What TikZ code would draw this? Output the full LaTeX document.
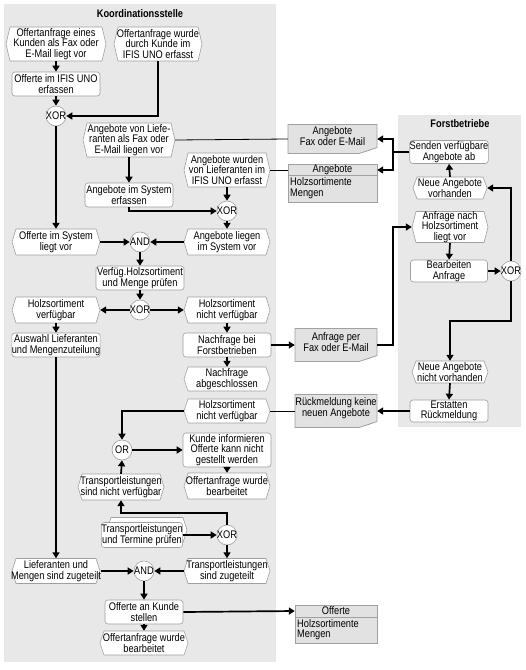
\documentclass[tikz,border=0pt]{standalone}
\usepackage{fontspec}
\setmainfont{Liberation Sans}[FakeStretch=0.84]
\usetikzlibrary{arrows.meta}
\definecolor{panel}{HTML}{E8E8E8}
\definecolor{docfill}{HTML}{E2E2E2}
\definecolor{edge}{HTML}{A0A0A0}
\tikzset{
 txt/.style={inner sep=0pt, align=center, font=\fontsize{11}{10.6}\selectfont},
 evshape/.style={fill=white, draw=edge, line width=0.6pt},
 fn/.style={txt, rectangle, rounded corners=3pt, fill=white, draw=edge, line width=0.6pt},
 gate/.style={circle, minimum size=20pt, inner sep=0pt, fill=white, draw=edge, line width=0.6pt, font=\fontsize{11}{10.6}\selectfont},
 flow/.style={line width=1.7pt, -{Triangle[length=6pt,width=7pt]}},
 bar/.style={line width=1.7pt},
 link/.style={line width=0.8pt},
 docshape/.style={fill=docfill, draw=edge, line width=0.6pt},
 ttl/.style={inner sep=0pt, font=\fontsize{11}{12}\selectfont\bfseries},
}
\newcommand\evt[6]{%
 \pgfmathsetmacro\exl{#2-(#4)/2}\pgfmathsetmacro\exr{#2+(#4)/2}%
 \pgfmathsetmacro\eyt{#3-(#5)/2}\pgfmathsetmacro\eyb{#3+(#5)/2}%
 \filldraw[evshape] (\exl,#3) -- ({\exl+4},\eyt) -- ({\exr-4},\eyt) -- (\exr,#3) -- ({\exr-4},\eyb) -- ({\exl+4},\eyb) -- cycle;
 \node[txt, minimum width=#4, minimum height=#5] (#1) at (#2,#3) {#6};
}
\newcommand\docu[6]{%
 \pgfmathsetmacro\dxl{#2-(#4)/2}\pgfmathsetmacro\dxr{#2+(#4)/2}%
 \pgfmathsetmacro\dyt{#3-(#5)/2}\pgfmathsetmacro\dyb{#3+(#5)/2}%
 \filldraw[docshape] (\dxl,\dyt) -- (\dxr,\dyt) -- (\dxr,{\dyb-6}) -- ({\dxr-18},\dyb) -- (\dxl,\dyb) -- cycle;
 \filldraw[fill=white!60!docfill, draw=edge, line width=0.4pt] ({\dxr-18},\dyb) -- (\dxr,{\dyb-6}) -- ({\dxr-8},{\dyb-3}) -- cycle;
 \node[txt, minimum width=#4, minimum height=#5] (#1) at (#2,#3) {};
 \node[txt] (#1t) at (#2,{#3-3}) {#6};
}
\begin{document}
\begin{tikzpicture}[x=1pt,y=-1pt]
\useasboundingbox (0,0) rectangle (526,670);
% panels
\fill[panel] (4,4) rectangle (276,662);
\fill[panel] (398,115) rectangle (521,427);
\node[ttl] (KS) at (140,14) {Koordinationsstelle};
\node[ttl] (FB) at (460,124) {Forstbetriebe};

% Koordinationsstelle
\evt{E1}{56}{44}{100}{34}{Offertanfrage eines\\Kunden als Fax oder\\E-Mail liegt vor}
\evt{E2}{158}{44}{88}{34}{Offertanfrage wurde\\durch Kunde im\\IFIS UNO erfasst}
\node[fn, minimum width=88, minimum height=24] (F1) at (56,84) {Offerte im IFIS UNO\\erfassen};
\node[gate] (X1) at (56,116) {\makebox[0pt]{XOR}};
\evt{E3}{129}{140}{92}{34}{Angebote von Liefe-\\ranten als Fax oder\\E-Mail liegen vor}
\node[fn, minimum width=88, minimum height=24] (F2) at (129,195) {Angebote im System\\erfassen};
\evt{E4}{227}{170}{86}{34}{Angebote wurden\\von Lieferanten im\\IFIS UNO erfasst}
\node[gate] (X2) at (227,211) {\makebox[0pt]{XOR}};
\evt{E5}{227}{242}{86}{26}{Angebote liegen\\im System vor}
\evt{E6}{56}{242}{88}{26}{Offerte im System\\liegt vor}
\node[gate] (A1) at (140,242) {\makebox[0pt]{AND}};
\node[fn, minimum width=88, minimum height=24] (F3) at (140,278) {Verfüg.Holzsortiment\\und Menge prüfen};
\node[gate] (X3) at (140,310) {\makebox[0pt]{XOR}};
\evt{E7}{56}{310}{88}{26}{Holzsortiment\\verfügbar}
\evt{E8}{227}{310}{86}{26}{Holzsortiment\\nicht verfügbar}
\node[fn, minimum width=88, minimum height=24] (F4) at (56,345) {Auswahl Lieferanten\\und Mengenzuteilung};
\node[fn, minimum width=88, minimum height=24] (F5) at (227,345) {Nachfrage bei\\Forstbetrieben};
\evt{E9}{227}{379}{86}{24}{Nachfrage\\abgeschlossen}
\evt{E10}{227}{411}{86}{24}{Holzsortiment\\nicht verfügbar}
\node[gate] (OR) at (122,450) {\makebox[0pt]{OR}};
\node[fn, minimum width=88, minimum height=34] (F6) at (227,450) {Kunde informieren\\Offerte kann nicht\\gestellt werden};
\evt{E11}{227}{486}{86}{26}{Offertanfrage wurde\\bearbeitet}
\evt{E12}{121}{487}{86}{26}{Transportleistungen\\sind nicht verfügbar}
\evt{F7s}{147}{530}{80}{25}{}
\node[fn, minimum width=80, minimum height=25] (F7) at (142,535) {Transportleistungen\\und Termine prüfen};
\node[gate] (X4) at (227,535) {\makebox[0pt]{XOR}};
\evt{E13}{56}{571}{88}{25}{Lieferanten und\\Mengen sind zugeteilt}
\node[gate] (A2) at (144,571) {\makebox[0pt]{AND}};
\evt{E14}{227}{571}{86}{25}{Transportleistungen\\sind zugeteilt}
\node[fn, minimum width=78, minimum height=24] (F8) at (144,612) {Offerte an Kunde\\stellen};
\evt{E15}{144}{643}{88}{24}{Offertanfrage wurde\\bearbeitet}

% documents
\docu{D1}{332.5}{139}{89}{29}{Angebote\\Fax oder E-Mail}
\filldraw[docshape] (288,164) rectangle (377,202);
\draw[draw=edge, line width=0.6pt] (288,175) -- (377,175);
\node[txt, minimum width=89, minimum height=11] (D2h) at (332.5,170) {Angebote};
\node[txt, align=left, anchor=north west] (D2b) at (290,177.5) {Holzsortimente\\Mengen};
\docu{D3}{336}{345}{82}{33}{Anfrage per\\Fax oder E-Mail}
\docu{D4}{336}{411}{82}{33}{Rückmeldung keine\\neuen Angebote}
\filldraw[docshape] (295,605) rectangle (377,643);
\draw[draw=edge, line width=0.6pt] (295,617) -- (377,617);
\node[txt, minimum width=82, minimum height=12] (D5h) at (336,611) {Offerte};
\node[txt, align=left, anchor=north west] (D5b) at (297,619) {Holzsortimente\\Mengen};

% Forstbetriebe
\node[fn, minimum width=75, minimum height=23] (F9) at (449,152) {Senden verfügbare\\Angebote ab};
\evt{E16}{450}{188}{74}{22}{Neue Angebote\\vorhanden}
\evt{E17}{450}{227}{76}{31}{Anfrage nach\\Holzsortiment\\liegt vor}
\node[fn, minimum width=77, minimum height=22] (F10) at (449,271) {Bearbeiten\\Anfrage};
\node[gate] (X5) at (511,271) {\makebox[0pt]{XOR}};
\evt{E18}{450}{372}{76}{22}{Neue Angebote\\nicht vorhanden}
\node[fn, minimum width=78, minimum height=22] (F11) at (449,411) {Erstatten\\Rückmeldung};

% connectors
\coordinate (j1) at (393,152);
\coordinate (j3) at (393,345);
\coordinate (k5) at (450,321);
\draw[flow] (E1.south) -- (F1.north);
\draw[flow] (F1.south) -- (X1.north);
\draw[flow] (E2.south) |- (X1.east);
\draw[flow] (X1.south) -- (E6.north);
\draw[flow] (E3.south) -- (F2.north);
\draw[flow] (F2.south) |- (X2.west);
\draw[flow] (E4.south) -- (X2.north);
\draw[flow] (X2.south) -- (E5.north);
\draw[flow] (E6.east) -- (A1.west);
\draw[flow] (E5.west) -- (A1.east);
\draw[flow] (A1.south) -- (F3.north);
\draw[flow] (F3.south) -- (X3.north);
\draw[flow] (X3.west) -- (E7.east);
\draw[flow] (X3.east) -- (E8.west);
\draw[flow] (E7.south) -- (F4.north);
\draw[flow] (E8.south) -- (F5.north);
\draw[flow] (F5.south) -- (E9.north);
\draw[flow] (F5.east) -- (D3.west);
\draw[flow] (D3.east) -- (j3) |- (E17.west);
\draw[link] (E3.east) -- (D1.west);
\draw[link] (E4.east) -- (D2h.west);
\draw[bar] (F9.west) -- (j1);
\draw[flow] (j1) |- (D1.east);
\draw[flow] (j1) |- (D2h.east);
\draw[flow] (E16.north) -- (F9.south);
\draw[flow] (E17.south) -- (F10.north);
\draw[flow] (F10.east) -- (X5.west);
\draw[flow] (X5.north) |- (E16.east);
\draw[flow] (X5.south) |- (k5) -- (E18.north);
\draw[flow] (E18.south) -- (F11.north);
\draw[flow] (F11.west) -- (D4.east);
\draw[link] (D4.west) -- (E10.east);
\draw[flow] (E10.west) -| (OR.north);
\draw[flow] (OR.east) -- (F6.west);
\draw[flow] (F6.south) -- (E11.north);
\draw[flow] (E12.north) -- (OR.south);
\draw[flow] (X4.north) -- ++(0,-12) -| (E12.south);
\draw[flow] (F7.east) -- (X4.west);
\draw[flow] (X4.south) -- (E14.north);
\draw[flow] (F4.south) -- (E13.north);
\draw[flow] (E13.east) -- (A2.west);
\draw[flow] (E14.west) -- (A2.east);
\draw[flow] (A2.south) -- (F8.north);
\draw[flow] (F8.south) -- (E15.north);
\draw[flow] (F8.east) -- (D5h.west);
\end{tikzpicture}
\end{document}
